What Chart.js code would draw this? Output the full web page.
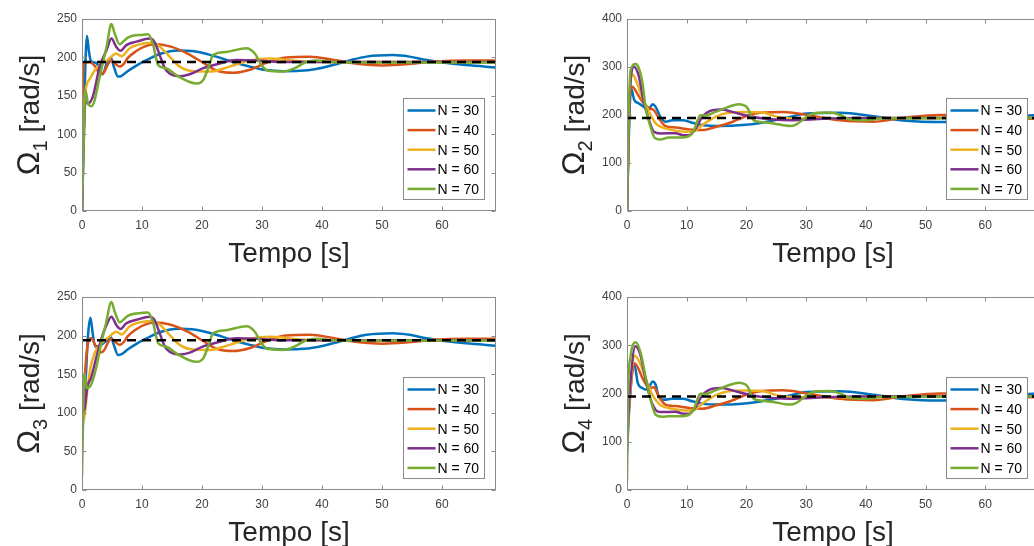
<!DOCTYPE html>
<html lang="pt">
<head>
  <meta charset="UTF-8" />
  <title>Velocidades dos rotores</title>
  <script src="https://cdn.jsdelivr.net/npm/chart.js@4"></script>
  <style>
    html, body { margin: 0; padding: 0; background: #fff; overflow: hidden; width: 1034px; height: 546px; }
    canvas { position: absolute; }
  </style>
</head>
<body>
  <canvas id="omega1"></canvas>
  <canvas id="omega2"></canvas>
  <canvas id="omega3"></canvas>
  <canvas id="omega4"></canvas>

  <script>
    // --- data: [time (s), speed (rad/s)] ---
    const seriesLabels = ['N = 30', 'N = 40', 'N = 50', 'N = 60', 'N = 70'];
    const xTicks = [0, 10, 20, 30, 40, 50, 60];
    const yTicksOmega13 = [0, 50, 100, 150, 200, 250];
    const yTicksOmega24 = [0, 100, 200, 300, 400];
    const tEnd = 69;
    const omegaRef = 194;

    // Omega 1
    const w1_n30 = [[0,0],[0.45,160],[0.83,228],[1.15,208],[1.5,195],[2.3,193],[2.8,188],[3.45,178],[4.1,192],[4.8,200],[5.3,188],[6,175],[6.6,176],[7.6,182],[9,189],[10.4,195],[13.2,205],[16,209],[18.7,208],[21.5,203],[25.2,194],[28,188],[30.7,183.5],[33.5,182],[36.3,182.5],[39,185],[41.8,190],[44.6,196],[47.4,201],[51.8,203],[54.6,201],[57.4,196.5],[60.5,193],[64,190],[69,187]];
    const w1_n40 = [[0,0],[0.15,170],[0.45,193],[1.3,194],[2.2,188],[3.1,178],[3.7,181],[4.4,192],[4.9,196],[5.5,192],[6.3,188],[7,192],[7.6,199],[9,208],[10.4,214],[12.1,217],[14.8,214],[17.6,205],[20.4,192],[22.4,183],[25.2,180],[28,184],[30.7,193],[34,200],[38,201],[41.8,197],[44.6,193],[50.2,189.5],[54,191],[58.5,194.5],[64,196],[69,196]];
    const w1_n50 = [[0,0],[0.3,120],[0.6,157],[1.3,172],[2.4,186],[3.5,192],[4.6,199],[5.7,205],[6.6,201.5],[7.95,212],[10.2,218],[11.6,219],[13,214],[14.6,201],[16.3,188],[18.5,182],[21.3,181.5],[24.6,188],[28,196],[31.3,198.5],[34,197],[36.3,195],[40,194],[69,194]];
    const w1_n60 = [[0,0],[0.4,120],[0.6,144],[1,140],[1.8,149],[2.95,188],[4.1,209.5],[4.9,224.5],[5.7,214],[6.4,208.5],[7.4,216],[9.1,220.5],[11.3,224.5],[12.1,220],[12.95,203],[13.8,186],[14.6,179],[16.3,175.5],[17.95,178],[20.2,186],[22.95,192],[25.7,196.5],[29,196],[33,194],[69,194]];
    const w1_n70 = [[0,0],[0.6,157],[1,140],[1.6,136.5],[2.1,144],[2.95,175],[4.1,214],[4.9,243.5],[5.45,231],[6.3,217],[6.8,220],[7.7,226],[10.2,229.5],[11,230],[11.8,218],[12.7,190],[14.1,185.5],[15.7,177],[17.95,168],[19.1,166],[20.2,170.5],[21.3,192],[21.8,203],[24,207],[27.4,212],[28.8,205],[29.9,190],[31,182.5],[33.5,181.5],[35.2,185],[37.4,194],[39,196],[41.8,194],[45,193.5],[69,193.5]];

    // Omega 3: own start-up, then the same course as Omega 1
    const w3_n30 = [[0,75],[0.5,125],[1,200],[1.4,223],[1.8,202],[2.2,186],[3,187],[4,193],[4.8,198]].concat(w1_n30.filter(p => p[0] >= 5.3));
    const w3_n40 = [[0,55],[0.5,150],[1,190],[1.5,197],[2.2,188]].concat(w1_n40.filter(p => p[0] >= 3.1));
    const w3_n50 = [[0,88],[0.4,95],[0.9,130],[1.4,158],[2.1,177],[2.8,186]].concat(w1_n50.filter(p => p[0] >= 3.5));
    const w3_n60 = [[0,100],[0.4,104],[0.9,134],[1.5,145],[2.3,169],[3.2,195],[4,212]].concat(w1_n60.filter(p => p[0] >= 4.9));
    const w3_n70 = [[0,18],[0.4,151],[0.83,132],[1.5,136],[2.3,156],[3.2,190],[4,216]].concat(w1_n70.filter(p => p[0] >= 4.9));

    // Omega 2
    const w2_n30 = [[0,0],[0.4,200],[0.7,255],[1.2,232],[2,224],[2.8,217],[3.4,210],[3.95,217],[4.3,222.5],[4.8,217],[5.6,196],[6.45,186],[7.6,189],[9.3,189],[10.9,184],[12.6,179],[15.9,177],[19.3,179],[22.6,184],[26,192],[30.1,203],[35.7,204.5],[41.2,197.5],[46.8,188],[52.4,185.5],[57,186],[62,192],[66,198],[69,200]];
    const w2_n40 = [[0,0],[0.4,220],[0.9,259],[1.7,245],[2.6,227.5],[3.7,214],[4.5,210],[5.35,193],[6.45,177],[8.1,174],[10.4,170],[12.6,168.5],[14.8,175],[17.6,185.5],[20.4,199.5],[22.6,205],[26.2,206.5],[30.1,200],[35.7,189],[41.2,186],[46.8,195],[52.4,200],[57,199],[62,195],[69,192]];
    const w2_n50 = [[0,0],[0.4,230],[0.9,285],[1.7,266],[2.6,234.5],[3.7,206.5],[4.8,182.5],[5.9,174],[7.6,168.5],[9.8,165],[11.2,166],[12.6,179],[14.8,196],[17,204.5],[19.8,206],[22.6,205],[25.6,195],[30.1,192],[35.7,192],[41.2,194],[69,194]];
    const w2_n60 = [[0,0],[0.5,250],[1.17,300.5],[2,280],[2.8,227.5],[3.7,189],[4.5,165],[5.6,161.5],[8.1,162],[9.5,158],[10.4,158],[11.5,172],[12.6,196],[14.3,210],[15.9,211.5],[17.6,206.5],[19.8,199.5],[22.6,193],[27.3,189],[32.9,192],[38.4,194],[69,194]];
    const w2_n70 = [[0,0],[0.3,200],[0.6,293.5],[1.44,306],[2,297],[2.6,266],[3.1,217],[3.95,175],[4.6,153],[5.6,149],[7,153],[8.7,153],[10.4,156],[11.2,168],[12.3,199.5],[13.1,199],[14.8,206.5],[17,217],[18.7,222.5],[20.1,216],[21.2,189],[22.3,185.5],[24.5,182.5],[27.3,177],[28.3,180],[30.1,196],[31.2,203],[34,205],[35.7,200],[37.3,191],[40.1,189],[42.9,193],[69,194]];

    // Omega 4: own start-up, then the same course as Omega 2
    const w4_n30 = [[0,77],[0.4,173],[1.2,262],[1.8,222],[2.6,211],[3.4,208],[4.3,225],[4.8,218],[5.3,194],[6.2,187]].concat(w2_n30.filter(p => p[0] >= 7.6));
    const w4_n40 = [[0,120],[0.5,200],[1.3,262],[2.6,232],[3.7,211],[4.5,213],[5.3,194],[6.45,177]].concat(w2_n40.filter(p => p[0] >= 8.1));
    const w4_n50 = [[0,95],[0.5,200],[1.3,278],[2.2,262],[3.2,228],[4.3,196],[5.4,178]].concat(w2_n50.filter(p => p[0] >= 5.9));
    const w4_n60 = [[0,100],[0.5,210],[1.4,298],[2.2,282],[3,236],[3.9,190],[4.8,166]].concat(w2_n60.filter(p => p[0] >= 5.6));
    const w4_n70 = [[0,18],[0.2,208],[0.6,277],[1.44,306],[2.3,284],[3.1,235.5],[3.95,187],[4.8,156],[5.9,152]].concat(w2_n70.filter(p => p[0] >= 7));

    // MATLAB default line colours
    const lineColors = ['#0072BD', '#D95319', '#EDB120', '#7E2F8E', '#77AC30'];
    const FONT = '"Liberation Sans", Arial, Helvetica, sans-serif';
    const AXIS_GREY = '#8a8a8a';

    // frame, inward ticks, legend and axis titles (matlab look)
    const matlabDecor = {
      id: 'matlabDecor',
      afterDatasetsDraw(chart) {
        const { ctx, chartArea: a, scales: { x, y } } = chart;
        const L = Math.round(a.left) + 0.5, R = Math.round(a.right) - 0.5;
        const T = Math.round(a.top) + 0.5, B = Math.round(a.bottom) - 0.5;
        ctx.save();
        ctx.strokeStyle = AXIS_GREY;
        ctx.lineWidth = 1;
        ctx.strokeRect(L, T, R - L, B - T);
        ctx.beginPath();
        x.ticks.forEach(t => {
          const px = Math.round(x.getPixelForValue(t.value)) + 0.5;
          ctx.moveTo(px, B); ctx.lineTo(px, B - 4);
          ctx.moveTo(px, T); ctx.lineTo(px, T + 4);
        });
        y.ticks.forEach(t => {
          const py = Math.round(y.getPixelForValue(t.value)) + 0.5;
          ctx.moveTo(L, py); ctx.lineTo(L + 4, py);
          ctx.moveTo(R, py); ctx.lineTo(R - 4, py);
        });
        ctx.stroke();
        ctx.restore();
      },
      afterDraw(chart) {
        const { ctx, chartArea: a } = chart;
        const opts = chart.options.plugins.matlabDecor;
        ctx.save();

        // legend box, bottom right inside the axes
        const bw = 81, bh = 101;
        const bx = Math.round(a.right - 12 - bw) + 0.5;
        const by = Math.round(a.bottom - 12 - bh) + 0.5;
        ctx.fillStyle = '#fff';
        ctx.fillRect(bx, by, bw, bh);
        ctx.strokeStyle = AXIS_GREY;
        ctx.lineWidth = 1;
        ctx.strokeRect(bx, by, bw, bh);
        ctx.font = '14px ' + FONT;
        ctx.textBaseline = 'middle';
        ctx.textAlign = 'left';
        seriesLabels.forEach((lab, i) => {
          const yy = by + 12 + i * 19.6;
          ctx.strokeStyle = lineColors[i];
          ctx.lineWidth = 2.5;
          ctx.beginPath();
          ctx.moveTo(bx + 4, yy); ctx.lineTo(bx + 32, yy);
          ctx.stroke();
          ctx.fillStyle = '#000';
          ctx.fillText(lab, bx + 34, yy + 1);
        });

        // x title
        ctx.fillStyle = '#262626';
        ctx.font = '28px ' + FONT;
        ctx.textAlign = 'center';
        ctx.textBaseline = 'alphabetic';
        ctx.fillText('Tempo [s]', (a.left + a.right) / 2, a.bottom + 51);

        // y title: Omega with subscript, rotated
        ctx.translate(a.left - 43, (a.top + a.bottom) / 2);
        ctx.rotate(-Math.PI / 2);
        ctx.textAlign = 'left';
        const fSym = '32px ' + FONT, fSub = '20px ' + FONT, fUnit = '28px ' + FONT;
        ctx.font = fSym; const wSym = ctx.measureText('Ω').width;
        ctx.font = fSub; const wSub = ctx.measureText(opts.sub).width;
        ctx.font = fUnit; const wSp = ctx.measureText(' ').width, wUnit = ctx.measureText('[rad/s]').width;
        let x0 = -(wSym + wSub + wSp + wUnit) / 2;
        ctx.font = fSym; ctx.fillText('Ω', x0, 0); x0 += wSym;
        ctx.font = fSub; ctx.fillText(opts.sub, x0, 8); x0 += wSub + wSp;
        ctx.font = fUnit; ctx.fillText('[rad/s]', x0, 0);
        ctx.restore();
      }
    };

    function toPoints(arr) {
      return arr.map(p => ({ x: p[0], y: p[1] }));
    }

    function makeChart(cfg) {
      const canvas = document.getElementById(cfg.id);
      canvas.width = cfg.w; canvas.height = cfg.h;
      canvas.style.left = cfg.left + 'px';
      canvas.style.top = cfg.top + 'px';

      const datasets = cfg.series.map((s, i) => ({
        label: seriesLabels[i],
        data: toPoints(s),
        borderColor: lineColors[i],
        borderWidth: 2.5,
        pointRadius: 0,
        fill: false,
        cubicInterpolationMode: 'monotone',
        order: 5 - i
      }));
      datasets.push({
        label: 'referência',
        data: toPoints([[0, omegaRef], [tEnd, omegaRef]]),
        borderColor: '#000',
        borderWidth: 2.5,
        borderDash: [9, 6],
        pointRadius: 0,
        fill: false,
        order: 0
      });

      return new Chart(canvas, {
        type: 'line',
        data: { datasets },
        plugins: [matlabDecor],
        options: {
          responsive: false,
          animation: false,
          devicePixelRatio: 1,
          layout: { padding: { left: 0, top: cfg.area.t, right: cfg.w - cfg.area.r, bottom: 0 } },
          plugins: {
            legend: { display: false },
            tooltip: { enabled: false },
            matlabDecor: { sub: cfg.sub }
          },
          scales: {
            x: {
              type: 'linear',
              min: 0, max: tEnd,
              afterBuildTicks: s => { s.ticks = xTicks.map(v => ({ value: v })); },
              afterFit: s => { s.height = cfg.h - cfg.area.b; },
              grid: { display: false, drawTicks: false },
              border: { display: false },
              ticks: { color: '#404040', padding: 7, maxRotation: 0, font: { size: 12, family: FONT } }
            },
            y: {
              type: 'linear',
              min: 0, max: cfg.yTicks[cfg.yTicks.length - 1],
              afterBuildTicks: s => { s.ticks = cfg.yTicks.map(v => ({ value: v })); },
              afterFit: s => { s.width = cfg.area.l; },
              grid: { display: false, drawTicks: false },
              border: { display: false },
              ticks: { color: '#404040', padding: 5, font: { size: 12, family: FONT } }
            }
          }
        }
      });
    }

    document.addEventListener('DOMContentLoaded', () => {
      // area coordinates are local to each canvas
      makeChart({ id: 'omega1', left: 0, top: 0, w: 517, h: 273, area: { l: 82, t: 19, r: 496, b: 211 },
                  sub: '1', yTicks: yTicksOmega13, series: [w1_n30, w1_n40, w1_n50, w1_n60, w1_n70] });
      makeChart({ id: 'omega2', left: 517, top: 0, w: 540, h: 273, area: { l: 110, t: 19, r: 522, b: 211 },
                  sub: '2', yTicks: yTicksOmega24, series: [w2_n30, w2_n40, w2_n50, w2_n60, w2_n70] });
      makeChart({ id: 'omega3', left: 0, top: 273, w: 517, h: 280, area: { l: 82, t: 24, r: 496, b: 217 },
                  sub: '3', yTicks: yTicksOmega13, series: [w3_n30, w3_n40, w3_n50, w3_n60, w3_n70] });
      makeChart({ id: 'omega4', left: 517, top: 273, w: 540, h: 280, area: { l: 110, t: 24, r: 522, b: 217 },
                  sub: '4', yTicks: yTicksOmega24, series: [w4_n30, w4_n40, w4_n50, w4_n60, w4_n70] });
    });
  </script>
</body>
</html>
